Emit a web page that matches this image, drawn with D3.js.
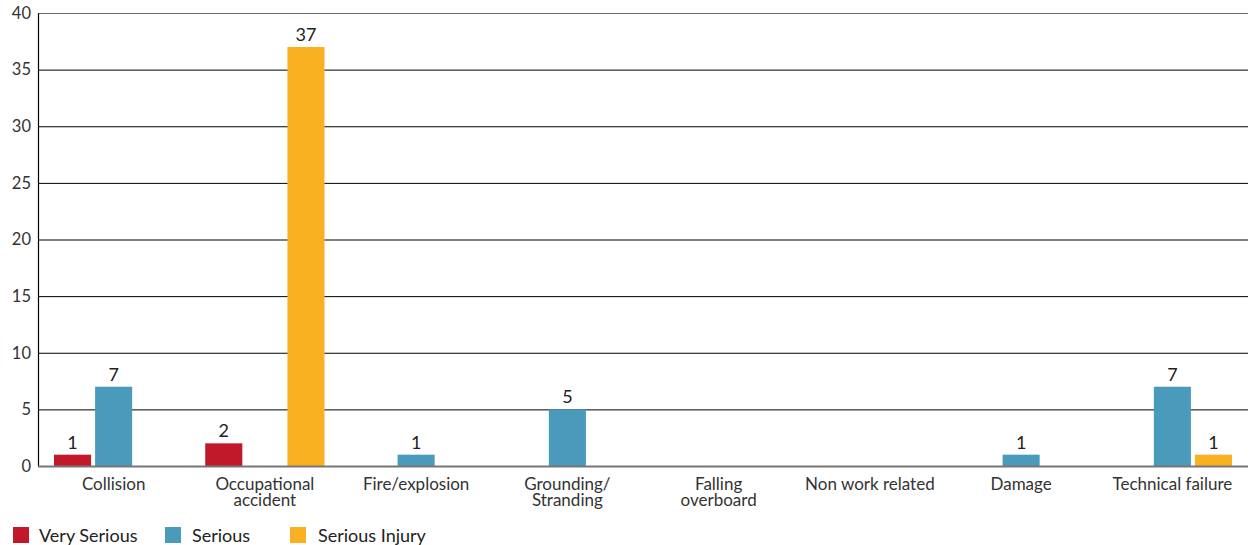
<!DOCTYPE html>
<html>
<head>
<meta charset="utf-8">
<script src="https://cdn.jsdelivr.net/npm/d3@7"></script>
<style>
  html, body { margin: 0; padding: 0; background: #fff; }
  svg { display: block; font-family: Lato, "Open Sans", sans-serif; }
</style>
</head>
<body>
<svg id="chart" width="1249" height="545"></svg>
<script>
// Casualty counts by event type and severity
const categories = [
  ["Collision"],
  ["Occupational", "accident"],
  ["Fire/explosion"],
  ["Grounding/", "Stranding"],
  ["Falling", "overboard"],
  ["Non work related"],
  ["Damage"],
  ["Technical failure"]
];
const seriesNames = ["Very Serious", "Serious", "Serious Injury"];
const verySerious   = [1, 2, 0, 0, 0, 0, 0, 0];
const serious       = [7, 0, 1, 5, 0, 0, 1, 7];
const seriousInjury = [0, 37, 0, 0, 0, 0, 0, 1];
const yTicks = [0, 5, 10, 15, 20, 25, 30, 35, 40];
const colors = ["#C1182A", "#4A9BBB", "#F9B122"];

const seriesValues = [verySerious, serious, seriousInjury];
const keys = categories.map(c => c.join(" "));

const svg = d3.select("#chart");
const plot = { left: 38, right: 1248, top: 13, bottom: 466 };

const x0 = d3.scaleBand().domain(keys).range([plot.left, plot.right]).padding(0);
const x1 = d3.scaleBand().domain(seriesNames).range([16, x0.bandwidth() - 16]).paddingInner(0.098);
const y = d3.scaleLinear().domain([0, 40]).range([plot.bottom, plot.top]);

// Gridlines
svg.append("g")
  .selectAll("line")
  .data(yTicks.filter(t => t > 0))
  .join("line")
  .attr("x1", plot.left).attr("x2", plot.right)
  .attr("y1", d => y(d) + 0.5).attr("y2", d => y(d) + 0.5)
  .attr("stroke", d => d === 40 ? "#666" : "#000")
  .attr("stroke-width", 1);

// Y axis
const yAxis = svg.append("g")
  .attr("transform", `translate(${plot.left},0)`)
  .call(d3.axisLeft(y).tickValues(yTicks).tickSize(0).tickPadding(7));
yAxis.select(".domain").attr("stroke", "#000").attr("stroke-width", 1.2);
yAxis.selectAll("text")
  .attr("font-size", 16.5)
  .attr("fill", "#333")
  .style("font-family", "Lato, 'Open Sans', sans-serif");

// Bars
const groups = svg.append("g")
  .selectAll("g")
  .data(keys)
  .join("g")
  .attr("transform", d => `translate(${x0(d)},0)`);

groups.each(function(k, i) {
  const rows = seriesNames.map((s, j) => ({ s, j, v: seriesValues[j][i] })).filter(r => r.v > 0);
  const g = d3.select(this);
  g.selectAll("rect")
    .data(rows)
    .join("rect")
    .attr("x", r => x1(r.s))
    .attr("width", x1.bandwidth())
    .attr("y", r => y(r.v))
    .attr("height", r => y(0) - y(r.v))
    .attr("fill", r => colors[r.j]);
  g.selectAll("text.val")
    .data(rows)
    .join("text")
    .attr("class", "val")
    .attr("x", r => x1(r.s) + x1.bandwidth() / 2)
    .attr("y", r => y(r.v) - 6)
    .attr("text-anchor", "middle")
    .attr("font-size", 18)
    .attr("fill", "#222")
    .text(r => r.v);
});

// X axis baseline
svg.append("line")
  .attr("x1", plot.left).attr("x2", plot.right)
  .attr("y1", plot.bottom + 0.5).attr("y2", plot.bottom + 0.5)
  .attr("stroke", "#777").attr("stroke-width", 2);

// Category labels
const xl = svg.append("g")
  .selectAll("text")
  .data(categories)
  .join("text")
  .attr("x", (d, i) => x0(keys[i]) + x0.bandwidth() / 2)
  .attr("y", 490)
  .attr("text-anchor", "middle")
  .attr("font-size", 17)
  .attr("fill", "#333");
xl.each(function(d) {
  const t = d3.select(this);
  t.selectAll("tspan")
    .data(d)
    .join("tspan")
    .attr("x", t.attr("x"))
    .attr("dy", (s, k) => k === 0 ? 0 : 16)
    .text(s => s);
});

// Legend
const legendX = [13, 165, 290];
const legend = svg.append("g")
  .selectAll("g")
  .data(seriesNames)
  .join("g")
  .attr("transform", (d, i) => `translate(${legendX[i]},527)`);
legend.append("rect")
  .attr("width", 16).attr("height", 16)
  .attr("fill", (d, i) => colors[i]);
legend.append("text")
  .attr("x", (d, i) => i === 0 ? 26 : i === 1 ? 27 : 28)
  .attr("y", 15)
  .attr("font-size", 18)
  .attr("fill", "#222")
  .text(d => d);
</script>
</body>
</html>
